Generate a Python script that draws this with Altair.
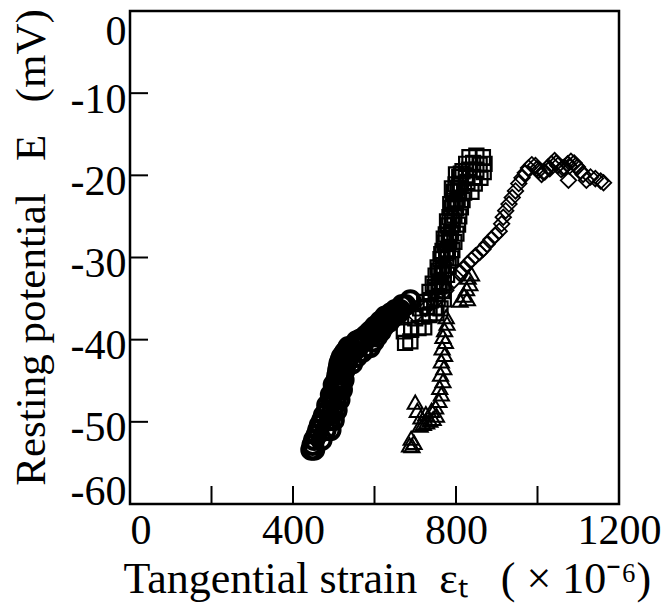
import altair as alt
import pandas as pd

# ---- data ----
circle_x = [445, 452, 452, 470, 462, 480, 492, 472, 490, 500, 486, 498, 507, 494, 505, 514,
            503, 512, 520, 507, 516, 524, 511, 519, 527, 514, 530, 545, 520, 538, 556, 528,
            548, 570, 536, 560, 589, 556, 575, 598, 577, 592, 606, 590, 605, 615, 601, 612,
            622, 614, 625, 636, 626, 637, 647, 640, 650, 658, 651, 657, 663, 668, 676, 688,
            448, 458, 466, 476, 484, 493, 500, 509, 513, 517, 525, 540, 552, 565, 584, 600,
            618, 632, 645, 660]
circle_y = [-53.4, -53.4, -52.2, -52.2, -51.0, -51.0, -51.0, -49.8, -49.8, -49.8, -48.6, -48.6,
            -48.6, -47.3, -47.3, -47.3, -46.1, -46.1, -46.1, -44.9, -44.9, -44.9, -43.7, -43.7,
            -43.7, -42.9, -42.9, -42.9, -42.1, -42.1, -42.1, -41.5, -41.5, -41.5, -40.9, -40.9,
            -40.9, -40.2, -40.2, -40.2, -39.6, -39.6, -39.6, -39.0, -39.0, -39.0, -38.4, -38.4,
            -38.4, -37.8, -37.8, -37.8, -37.2, -37.2, -37.2, -36.8, -36.8, -36.8, -36.4, -36.4,
            -36.4, -35.8, -35.8, -35.2,
            -52.8, -51.6, -50.4, -49.2, -48.0, -46.7, -45.5, -44.3, -43.3, -42.5, -41.8, -41.2,
            -40.6, -40.0, -39.3, -38.7, -38.1, -37.5, -37.0, -36.6]

square_x = [675, 688, 672, 690, 708, 722, 700, 718, 735, 752, 712, 730, 748, 762,
            722, 738, 755, 770, 735, 750, 766, 743, 757, 770, 750, 764, 778, 755, 768, 782,
            762, 776, 788, 767, 780, 791, 772, 784, 796, 775, 788, 801, 780, 792, 805,
            784, 796, 808, 788, 800, 812, 792, 804, 816, 795, 808, 820, 838,
            799, 812, 828, 846, 808, 824, 842, 860, 816, 832, 850, 868,
            825, 842, 858, 870, 833, 850, 866,
            748, 760, 758, 770, 764, 776, 770, 782, 778, 790, 786, 798, 790, 804, 800, 812]
square_y = [-40.4, -40.2, -39.0, -38.8, -38.6, -38.5, -37.4, -37.2, -37.0, -36.8, -36.2, -36.0, -36.1, -36.2,
            -35.4, -35.2, -35.0, -35.1, -34.2, -34.0, -34.1, -33.2, -33.0, -33.1, -32.2, -32.0, -32.1,
            -31.2, -31.0, -31.0, -30.2, -30.0, -30.1, -29.2, -29.0, -29.1, -28.2, -28.0, -28.1,
            -27.2, -27.0, -27.1, -26.1, -26.0, -26.0, -25.1, -24.9, -25.0, -24.0, -24.0, -23.9,
            -23.1, -22.9, -23.0, -22.0, -21.9, -22.1, -22.0, -21.1, -21.0, -20.8, -21.0,
            -20.2, -20.0, -20.2, -20.3, -19.5, -19.3, -19.4, -19.6, -18.6, -18.5, -18.7, -18.6,
            -17.8, -17.6, -17.8,
            -33.6, -33.5, -31.6, -31.5, -29.6, -29.5, -27.7, -27.6, -25.6, -25.5, -23.5, -23.4,
            -21.6, -21.5, -19.9, -19.8]

triangle_x = [686, 692, 697, 690, 700, 705, 712, 720, 728, 736, 744, 752, 714, 726, 740, 750,
              758, 764, 760, 768, 762, 770, 764, 772, 766, 774, 768, 772, 778, 776,
              810, 820, 828, 826, 834, 830, 838]
triangle_y = [-52.8, -52.9, -52.5, -52.0, -47.6, -48.6, -50.4, -50.2, -50.0, -49.8, -49.6, -49.2,
              -49.4, -49.0, -48.6, -48.2, -47.4, -46.6, -45.8, -45.0, -44.2, -43.4, -42.6, -41.8,
              -41.0, -40.2, -39.6, -38.8, -38.0, -37.2, -35.2, -34.6, -35.0, -33.8, -33.2, -32.4,
              -32.0]

diamond_x = [700, 725, 750, 775, 795, 808, 818, 828, 838, 848, 858, 866, 876, 886, 896, 906,
             912, 916, 922, 930, 938, 946, 954, 962, 970, 978, 986,
             995, 1003, 1010, 1018, 1026, 1034, 1042, 1050, 1058, 1066, 1074, 1082, 1090, 1098,
             1106, 1112, 1076, 1120, 1130, 1142, 1155, 1162,
             999, 1014, 1030, 1046, 1062, 1078, 1094]
diamond_y = [-37.0, -36.2, -35.2, -34.0, -32.8, -31.9, -31.4, -30.8, -30.3, -29.8, -29.4, -29.0,
             -28.4, -27.8, -27.3, -26.8, -25.9, -25.1, -24.3, -23.5, -22.7, -21.9, -21.0, -20.3,
             -19.7, -19.1, -18.7,
             -18.8, -19.4, -19.9, -19.6, -19.0, -18.6, -18.2, -18.8, -19.3, -19.0, -18.6, -18.3,
             -18.5, -19.0, -19.5, -19.9, -20.6, -20.6, -20.2, -20.4, -20.7, -20.9,
             -19.2, -19.6, -19.2, -18.5, -19.1, -18.9, -18.8]

x_label_values = [0, 400, 800, 1200]
y_label_values = [0, -10, -20, -30, -40, -50, -60]
x_tick_values = [200, 400, 600, 800, 1000]
y_tick_values = [-10, -20, -30, -40, -50]

W, H = 489, 493
FONT = "Liberation Serif"
NB = "\u00a0"

xscale = alt.Scale(domain=[0, 1200], nice=False, zero=False)
yscale = alt.Scale(domain=[-60, 0], nice=False, zero=False)

x_title = ("Tangential strain" + NB * 2 + "\u03b5\u209c" + NB * 3 + "(" + NB + "\u00d7" + NB
           + "10\u207b\u2076)")
y_title = "Resting potential" + NB * 3 + "E" + NB * 3 + "(mV)"

x_axis = alt.Axis(
    values=x_label_values, grid=False, ticks=False, domain=False, tickSize=0,
    labelFont=FONT, labelFontSize=42, labelColor="black", labelPadding=6,
    labelExpr="'' + datum.value",
    labelAlign=alt.expr("datum.value == 0 ? 'left' : 'center'"),
    title=x_title,
    titleFont=FONT, titleFontSize=44, titleFontWeight="normal", titleColor="black",
    titleX=-7, titleY=88, titleAlign="left", titleBaseline="alphabetic",
)
y_axis = alt.Axis(
    values=y_label_values, grid=False, ticks=False, domain=False, tickSize=0,
    labelFont=FONT, labelFontSize=42, labelColor="black", labelPadding=4,
    labelExpr="'' + datum.value",
    labelBaseline=alt.expr("datum.value == 0 ? 'top' : (datum.value == -60 ? 'alphabetic' : 'middle')"),
    labelOffset=alt.expr("datum.value == 0 || datum.value == -60 ? 0 : 6"),
    title=y_title,
    titleFont=FONT, titleFontSize=43, titleFontWeight="normal", titleColor="black",
    titleX=-86, titleY=236, titleAngle=270, titleAlign="center", titleBaseline="alphabetic",
)


def pts(xs, ys, shape, size, sw):
    return alt.Chart(pd.DataFrame({"x": xs, "y": ys})).mark_point(
        shape=shape, filled=False, color="black", size=size, strokeWidth=sw, opacity=1
    ).encode(
        x=alt.X("x:Q", scale=xscale, axis=x_axis),
        y=alt.Y("y:Q", scale=yscale, axis=y_axis),
    )


circles = pts(circle_x, circle_y, "circle", 330, 4.0)
triangles = pts(triangle_x, triangle_y, "triangle-up", 230, 2.0)
squares = pts(square_x, square_y, "square", 200, 2.2)
diamonds = pts(diamond_x, diamond_y, "diamond", 240, 1.8)

xticks = alt.Chart(pd.DataFrame({"x": x_tick_values})).mark_rule(
    color="black", strokeWidth=2
).encode(x=alt.X("x:Q", scale=xscale, axis=x_axis), y=alt.value(H), y2=alt.value(H - 18))

yticks = alt.Chart(pd.DataFrame({"y": y_tick_values})).mark_rule(
    color="black", strokeWidth=2
).encode(y=alt.Y("y:Q", scale=yscale, axis=y_axis), x=alt.value(0), x2=alt.value(18))

chart = alt.layer(circles, triangles, squares, diamonds, xticks, yticks).properties(
    width=W, height=H,
    autosize=alt.AutoSizeParams(type="none"),
    padding={"left": 122, "top": 3, "right": 44, "bottom": 100},
    background="white",
).configure_view(stroke="black", strokeWidth=2.5)

chart.save("out.html", embed_options={"renderer": "svg", "actions": False})
